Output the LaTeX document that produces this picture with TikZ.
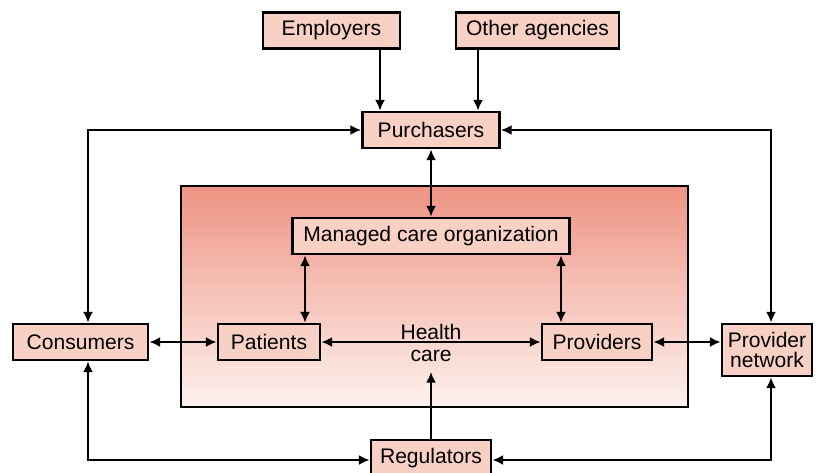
\documentclass[tikz,border=0pt]{standalone}
\usepackage{fontspec}
\setmainfont{Liberation Sans}
\usetikzlibrary{arrows.meta}
\definecolor{boxfill}{RGB}{248,208,196}
\definecolor{shtop}{RGB}{238,148,132}
\definecolor{shbot}{RGB}{253,242,238}
\begin{document}
\begin{tikzpicture}[x=0.75pt,y=-0.75pt,
  box/.style={draw=black,line width=2.2pt,fill=boxfill,inner sep=0pt,
    minimum height=27pt,font=\fontsize{15.8}{18}\selectfont,align=center},
  conn/.style={line width=1.4pt,-{Latex[length=8pt,width=7.5pt]}},
  biconn/.style={line width=1.4pt,{Latex[length=8pt,width=7.5pt]}-{Latex[length=8pt,width=7.5pt]}}]
\useasboundingbox (0,0) rectangle (817,472);
% big shaded rectangle
\fill[top color=shtop,bottom color=shbot] (181,186) rectangle (688,407);
\draw[line width=1.4pt] (181,186) rectangle (688,407);
% nodes
\node[box,minimum width=102.75pt] (emp) at (331.5,30.5) {Employers};
\node[box,minimum width=122.25pt] (oth) at (537.5,30.5) {Other agencies};
\node[box,minimum width=102.75pt] (pur) at (431,130) {Purchasers};
\node[box,minimum width=207.75pt] (mco) at (431,236) {Managed care organization};
\node[box,minimum width=76.5pt] (pat) at (269,342) {Patients};
\node[box,minimum width=82.5pt] (prv) at (597,342) {Providers};
\node[box,minimum width=101.25pt] (con) at (80.5,342) {Consumers};
\node[box,minimum width=67.5pt,minimum height=39pt] (net) at (767,350) {Provider\\[-3pt]network};
\node[box,minimum width=90pt] (reg) at (431,458) {Regulators};
\node[font=\fontsize{15.8}{18}\selectfont,align=center,inner sep=0pt] (hc) at (431,343) {Health\\[-1pt]care};
% corners
\coordinate (cUL) at (88,130);
\coordinate (cUR) at (771,130);
\coordinate (cLL) at (88,460);
\coordinate (cLR) at (771,460);
\coordinate (hcend) at (431,372);
% connectors
\draw[conn] (emp.south -| 380,0) -- (pur.north -| 380,0);
\draw[conn] (oth.south -| 478,0) -- (pur.north -| 478,0);
\draw[biconn] (pur.south) -- (mco.north);
\draw[biconn] (con.north -| cUL) -- (cUL) -- (pur.west);
\draw[biconn] (net.north -| cUR) -- (cUR) -- (pur.east);
\draw[biconn] (mco.south -| 305,0) -- (pat.north -| 305,0);
\draw[biconn] (mco.south -| 561,0) -- (prv.north -| 561,0);
\draw[biconn] (pat.east) -- (prv.west);
\draw[biconn] (con.east) -- (pat.west);
\draw[biconn] (prv.east) -- (net.west |- prv.east);
\draw[conn] (reg.north) -- (hcend);
\draw[biconn] (con.south -| cLL) -- (cLL) -- (reg.west |- cLL);
\draw[biconn] (net.south -| cLR) -- (cLR) -- (reg.east |- cLR);
\end{tikzpicture}
\end{document}
